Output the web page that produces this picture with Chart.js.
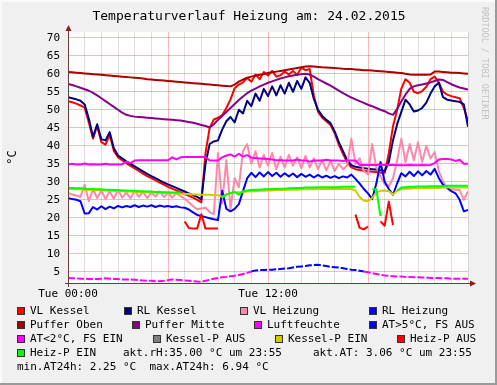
<!DOCTYPE html>
<html>
<head>
<meta charset="utf-8">
<title>Temperaturverlauf Heizung</title>
<script src="https://cdn.jsdelivr.net/npm/chart.js@4.4.1/dist/chart.umd.min.js"></script>
<style>
  body { margin: 0; background: #f0f0f0; }
  canvas { display: block; }
</style>
</head>
<body>
<canvas id="chart" width="497" height="385"></canvas>
<script>
// one sample every 15 minutes, 00:00 .. 24:00
const stepHours = 0.25;
const hours = Array.from({ length: 97 }, (_, i) => i * stepHours);

const xTickLabels = { 0: "Tue 00:00", 12: "Tue 12:00" };
const yTicks = [5, 10, 15, 20, 25, 30, 35, 40, 45, 50, 55, 60, 65, 70];
const yMin = 1.9;
const yMax = 71.6;
const atLimit = 5;

const vlKessel = [
  52.4, 52.1, 51.7, 51.2, 50.6, 46.5, 42.0, 45.5,
  41.0, 40.3, 43.0, 38.6, 36.8, 36.0, 35.2, 34.4,
  33.7, 33.0, 32.3, 31.6, 31.0, 30.4, 29.8, 29.2,
  28.6, 28.1, 27.6, 27.1, 26.6, 26.1, 25.6, 25.0,
  24.3, 38.0, 45.0, 47.3, 47.8, 48.5, 50.5, 52.9,
  56.0, 57.0, 57.6, 58.8, 57.8, 59.8, 58.5, 60.5,
  59.5, 60.8, 59.2, 59.6, 60.6, 59.8, 60.8, 59.7,
  61.7, 61.0, 61.3, 54.0, 49.5, 47.8, 46.8, 45.8,
  43.5, 40.3, 37.8, 35.4, 34.0, 33.5, 33.3, 33.1,
  32.9, 32.8, 32.7, 32.5, 32.4, 38.0, 45.4, 50.0,
  55.9, 58.5, 57.5, 55.0, 54.6, 55.2, 56.4, 58.5,
  59.2, 57.6, 55.0, 54.2, 53.8, 53.5, 53.2, 50.5,
  47.0
];
const rlKessel = [
  53.5, 53.2, 52.9, 52.5, 51.5, 47.5, 42.5, 46.0,
  41.8, 41.5, 43.8, 39.3, 37.3, 36.5, 35.7, 35.0,
  34.3, 33.6, 32.9, 32.2, 31.6, 31.0, 30.4, 29.8,
  29.3, 28.8, 28.3, 27.8, 27.3, 26.8, 26.3, 25.8,
  25.1, 35.0, 40.5, 41.2, 41.5, 44.5, 46.8, 48.0,
  46.5, 50.0, 49.0, 52.5, 51.0, 54.5, 52.5, 55.8,
  53.8, 56.5, 54.0, 56.8, 54.5, 57.5, 55.0, 58.0,
  55.8, 59.0, 57.5, 53.0, 50.0, 48.3, 47.2, 46.3,
  44.0, 41.0, 38.5, 36.0, 34.6, 34.2, 34.0, 33.8,
  33.6, 33.5, 33.4, 33.2, 33.0, 35.5, 41.5, 46.0,
  49.4, 52.8, 51.5, 49.5, 49.8, 50.5, 52.0, 54.5,
  56.5, 57.5, 53.5, 52.8, 52.6, 52.4, 52.2, 51.5,
  45.3
];
const vlHeizung = [
  26.9, 26.5, 26.2, 25.8, 29.2, 24.6, 28.0, 25.5,
  27.6, 25.2, 27.4, 25.3, 27.8, 25.6, 27.0, 25.4,
  27.5, 25.8, 27.2, 25.5, 27.0, 25.9, 27.3, 25.8,
  26.9, 25.6, 26.8, 26.0, 25.3, 24.3, 23.2, 22.4,
  22.6, 22.8, 21.6, 21.0, 38.0, 24.0, 36.0, 22.5,
  31.0, 28.5, 38.5, 40.5, 35.0, 38.5, 34.0, 37.5,
  34.5, 38.0, 33.5, 37.0, 34.0, 37.5, 34.5, 36.8,
  33.8, 37.2, 34.0, 36.5, 33.5, 36.0, 33.2, 35.8,
  33.0, 35.0, 33.5, 34.5, 42.0, 35.0, 36.5, 33.0,
  32.0, 40.5, 34.0, 31.5, 29.3, 28.8, 31.0, 36.0,
  42.0, 35.5, 40.5, 36.0, 41.0, 35.5, 40.0, 36.5,
  38.3, 33.0, 30.0, 28.3, 28.0, 27.8, 27.7, 25.0,
  27.3
];
const rlHeizung = [
  25.5, 25.2, 25.0, 24.6, 21.2, 21.3, 23.0, 22.3,
  23.2, 22.4, 23.1, 22.6, 23.3, 22.9, 23.3, 23.0,
  23.5, 23.0, 23.4, 23.1, 23.5, 23.0, 23.4, 23.1,
  23.3, 23.0, 23.2, 22.9, 22.8, 22.3, 21.5, 20.8,
  20.5, 20.2, 19.9, 19.6, 19.4, 27.5, 22.5, 21.8,
  22.5, 23.8, 27.4, 31.0, 32.5, 31.3, 32.6, 31.5,
  32.7, 31.6, 32.5, 31.4, 32.4, 31.5, 32.3, 31.3,
  32.2, 31.4, 32.0, 31.2, 31.9, 31.2, 31.7, 31.1,
  31.6, 31.0, 31.5, 31.2, 32.0, 30.8, 29.5, 28.0,
  26.8, 25.2, 29.5, 35.5, 30.0, 28.0, 26.4, 29.6,
  32.4, 31.5, 32.8, 31.6, 32.9, 31.8, 33.0, 32.0,
  33.6, 31.0, 29.2, 28.3, 27.4, 26.8, 25.0, 21.8,
  22.2
];
const pufferOben = [
  60.5, 60.4, 60.3, 60.2, 60.1, 60.0, 59.9, 59.8,
  59.7, 59.6, 59.5, 59.4, 59.3, 59.2, 59.1, 59.0,
  58.9, 58.8, 58.7, 58.5, 58.4, 58.3, 58.2, 58.1,
  58.0, 57.9, 57.8, 57.7, 57.6, 57.5, 57.4, 57.3,
  57.2, 57.1, 57.0, 56.9, 56.8, 56.7, 56.6, 56.5,
  57.0, 57.8, 58.4, 58.9, 59.2, 59.5, 59.7, 59.9,
  60.2, 60.4, 60.6, 60.8, 61.0, 61.2, 61.4, 61.6,
  61.8, 62.0, 62.1, 62.0, 61.9, 61.8, 61.75, 61.7,
  61.6, 61.5, 61.4, 61.35, 61.3, 61.2, 61.1, 61.0,
  60.95, 60.9, 60.8, 60.7, 60.6, 60.5, 60.4, 60.3,
  60.2, 60.0, 59.8, 59.7, 59.7, 59.7, 59.7, 59.8,
  60.6, 60.6, 60.5, 60.4, 60.3, 60.3, 60.2, 60.1,
  60.0
];
const pufferMitte = [
  57.2, 56.9, 56.5, 56.1, 55.7, 55.3, 54.7, 54.0,
  53.2, 52.4, 51.6, 50.8, 50.0, 49.2, 48.6, 48.3,
  48.1, 48.0, 47.9, 47.8, 47.7, 47.6, 47.5, 47.4,
  47.3, 47.2, 47.1, 47.0, 46.8, 46.6, 46.4, 46.1,
  45.8, 45.5, 45.1, 46.0, 47.2, 48.3, 49.4, 50.5,
  51.6, 52.7, 53.7, 54.6, 55.3, 55.9, 56.5, 57.0,
  57.5, 57.9, 58.3, 58.7, 59.0, 59.3, 59.5, 59.7,
  59.9, 60.0, 59.8, 59.2, 58.5, 57.9, 57.3, 56.7,
  56.0, 55.3, 54.6, 54.0, 53.4, 52.9, 52.4, 51.9,
  51.4, 51.0, 50.5, 50.0, 49.6, 49.0, 48.6, 50.3,
  52.3, 54.2, 55.8, 56.5, 56.8, 57.0, 57.3, 57.6,
  58.0, 58.4, 58.3, 57.7, 57.1, 56.6, 56.2, 55.9,
  55.6
];
const luftfeuchte = [
  34.8, 35.0, 34.8, 34.8, 35.1, 34.8, 34.9, 34.8,
  34.8, 35.0, 34.8, 34.8, 34.8, 34.9, 35.6, 35.2,
  35.9, 36.0, 36.0, 36.0, 36.0, 36.0, 36.0, 36.0,
  36.0, 36.8, 36.2, 36.8, 36.9, 36.9, 36.9, 36.9,
  36.9, 36.9, 35.9, 35.9, 35.9, 36.8, 37.3, 37.6,
  37.0, 37.8, 37.0, 37.4, 36.7, 36.6, 36.5, 36.4,
  36.3, 36.2, 36.0, 36.0, 35.9, 35.9, 35.9, 36.2,
  35.9, 35.9, 35.6, 35.9, 35.9, 35.9, 36.1, 35.9,
  35.9, 35.9, 35.8, 35.9, 35.9, 35.9, 34.7, 34.7,
  34.7, 34.7, 34.7, 34.8, 34.7, 34.7, 34.7, 34.6,
  34.6, 34.6, 34.7, 34.6, 34.6, 34.7, 34.6, 34.7,
  35.2, 36.2, 36.3, 36.3, 36.2, 35.8, 36.1, 35.0,
  35.0
];
// outside temperature: blue above atLimit, magenta below
const aussenTemp = [
  3.3, 3.2, 3.2, 3.1, 3.1, 3.0, 3.0, 3.0,
  3.1, 3.2, 3.1, 3.0, 3.0, 2.9, 2.9, 2.9,
  2.8, 2.7, 2.6, 2.5, 2.5, 2.4, 2.4, 2.5,
  2.7, 2.9, 2.8, 2.7, 2.6, 2.5, 2.4, 2.3,
  2.25, 2.5, 2.8, 3.1, 3.3, 3.5, 3.6, 3.8,
  3.9, 4.1, 4.4, 4.7, 5.1, 5.4, 5.5, 5.5,
  5.6, 5.6, 5.7, 5.8, 5.9, 6.0, 6.2, 6.4,
  6.5, 6.6, 6.8, 6.9, 6.94, 6.8, 6.6, 6.4,
  6.3, 6.2, 6.0, 5.8, 5.6, 5.5, 5.3, 5.1,
  4.9, 4.6, 4.4, 4.2, 4.0, 3.9, 3.8, 3.7,
  3.7, 3.6, 3.6, 3.5, 3.5, 3.4, 3.4, 3.3,
  3.3, 3.3, 3.2, 3.2, 3.1, 3.1, 3.1, 3.06,
  3.06
];
const kesselPEin = [
  28.0, 28.0, 27.9, 27.9, 27.8, 27.8, 27.7, 27.7,
  27.6, 27.6, 27.5, 27.5, 27.4, 27.4, 27.3, 27.3,
  27.2, 27.2, 27.1, 27.1, 27.0, 27.0, 26.9, 26.9,
  26.8, 26.8, 26.7, 26.7, 26.6, 26.6, 26.5, 26.5,
  26.4, 26.4, 26.4, 26.3, 26.3, 25.8, 26.5, 26.8,
  27.0, 27.1, 27.2, 27.3, 27.4, 27.4, 27.5, 27.5,
  27.6, 27.6, 27.7, 27.7, 27.7, 27.8, 27.8, 27.8,
  27.9, 27.9, 27.9, 27.9, 28.0, 28.0, 28.0, 28.0,
  28.0, 28.0, 28.0, 28.0, 28.0, 27.6, 25.8, 24.8,
  24.6, 25.5, 27.0, 27.5, 27.6, 27.4, 26.5, 27.5,
  28.0, 28.1, 28.1, 28.2, 28.2, 28.2, 28.3, 28.3,
  28.3, 28.3, 28.4, 28.4, 28.4, 28.4, 28.4, 28.4,
  28.4
];
const heizPAus = [
  null, null, null, null, null, null, null, null,
  null, null, null, null, null, null, null, null,
  null, null, null, null, null, null, null, null,
  null, null, null, null, 19.0, 17.2, 17.0, 17.0,
  21.0, 17.0, 17.0, 17.0, 17.0, null, null, null,
  null, null, null, null, null, null, null, null,
  null, null, null, null, null, null, null, null,
  null, null, null, null, null, null, null, null,
  null, null, null, null, null, 20.9, 17.2, 16.8,
  17.6, null, null, 19.0, 17.8, 24.5, 18.0, null,
  null, null, null, null, null, null, null, null,
  null, null, null, null, null, null, null, null,
  null
];
const heizPEin = [
  28.3, 28.3, 28.2, 28.2, 28.1, 28.0, 28.0, 27.9,
  27.9, 27.8, 27.8, 27.7, 27.7, 27.6, 27.6, 27.5,
  27.5, 27.4, 27.4, 27.3, 27.3, 27.2, 27.2, 27.1,
  27.1, 27.0, 27.0, 27.0, null, null, null, null,
  null, null, null, null, null, 25.6, 26.5, 26.9,
  27.2, 26.4, 27.4, 27.6, 27.7, 27.8, 27.8, 27.9,
  27.9, 28.0, 28.0, 28.1, 28.1, 28.2, 28.2, 28.3,
  28.3, 28.4, 28.4, 28.4, 28.5, 28.5, 28.5, 28.5,
  28.5, 28.5, 28.6, 28.6, 28.6, 28.6, null, null,
  null, 27.9, 27.9, 20.5, null, null, null, 27.6,
  28.4, 28.5, 28.6, 28.6, 28.7, 28.7, 28.7, 28.8,
  28.8, 28.8, 28.8, 28.9, 28.9, 28.9, 28.9, 28.9,
  28.9
];

const legendLabels = [
  "VL Kessel", "RL Kessel", "VL Heizung", "RL Heizung",
  "Puffer Oben", "Puffer Mitte", "Luftfeuchte", "AT>5°C, FS AUS",
  "AT<2°C, FS EIN", "Kessel-P AUS", "Kessel-P EIN", "Heiz-P AUS",
  "Heiz-P EIN"
];
const legendColors = [
  "#ff0000", "#000080", "#ff88aa", "#0000ff",
  "#aa0000", "#880088", "#ff00ff", "#0000ff",
  "#ff00ff", "#808080", "#cccc00", "#ff0000",
  "#00ff00"
];
const legendSpots = [
  [17, 311], [124, 311], [240, 311], [369, 311],
  [17, 325], [132, 325], [254, 325], [369, 325],
  [17, 339], [153, 339], [275, 339], [397, 339],
  [17, 353]
];
const commentTexts = [
  "akt.rH:35.00 °C um 23:55",
  "akt.AT: 3.06 °C um 23:55",
  "min.AT24h: 2.25 °C  max.AT24h: 6.94 °C"
];
const commentSpots = [[123, 353], [313, 353], [17, 367]];

const monoFont = "'DejaVu Sans Mono', monospace";
const majorGrid = "rgba(255,0,0,0.28)";
const minorGrid = "rgba(140,140,140,0.28)";

function line(data, color, extra) {
  return Object.assign({
    data: data,
    borderColor: color,
    borderWidth: 2,
    pointRadius: 0,
    borderJoinStyle: "round",
    tension: 0,
    fill: false
  }, extra || {});
}

const datasets = [
  line(vlKessel, legendColors[0]),
  line(rlKessel, legendColors[1]),
  line(vlHeizung, legendColors[2]),
  line(rlHeizung, legendColors[3]),
  line(pufferOben, legendColors[4]),
  line(pufferMitte, legendColors[5]),
  line(luftfeuchte, legendColors[6]),
  line(aussenTemp, legendColors[8], {
    borderDash: [7, 2],
    segment: {
      borderColor: c => (c.p0.parsed.y >= atLimit && c.p1.parsed.y >= atLimit) ? legendColors[7] : legendColors[8]
    }
  }),
  line(kesselPEin, legendColors[10]),
  line(heizPAus, legendColors[11]),
  line(heizPEin, legendColors[12])
];
// rrdtool paints later graphs on top
datasets.forEach((d, i) => { d.order = -i; });

const rrdLook = {
  id: "rrdLook",
  beforeDraw(chart) {
    const { ctx, chartArea: a, width, height } = chart;
    ctx.save();
    ctx.fillStyle = "#f0f0f0";
    ctx.fillRect(0, 0, width, height);
    ctx.fillStyle = "#fafafa";
    ctx.fillRect(0, 0, width, 2);
    ctx.fillRect(0, 0, 2, height);
    ctx.fillStyle = "#9a9a9a";
    ctx.fillRect(0, height - 2, width, 2);
    ctx.fillRect(width - 2, 0, 2, height);
    ctx.fillStyle = "#ffffff";
    ctx.fillRect(a.left, a.top, a.right - a.left, a.bottom - a.top);
    ctx.restore();
  },
  afterDraw(chart) {
    const { ctx, chartArea: a } = chart;
    ctx.save();

    // axes with arrows
    ctx.strokeStyle = "#6e3a3a";
    ctx.lineWidth = 1;
    ctx.beginPath();
    ctx.moveTo(a.left - 3, a.bottom + 0.5);
    ctx.lineTo(a.right + 3, a.bottom + 0.5);
    ctx.moveTo(a.left + 0.5, a.bottom + 4);
    ctx.lineTo(a.left + 0.5, a.top - 3);
    ctx.stroke();
    ctx.fillStyle = "#8b1c1c";
    ctx.beginPath();
    ctx.moveTo(a.right + 8, a.bottom + 0.5);
    ctx.lineTo(a.right + 2, a.bottom - 2.5);
    ctx.lineTo(a.right + 2, a.bottom + 3.5);
    ctx.fill();
    ctx.beginPath();
    ctx.moveTo(a.left + 0.5, a.top - 7);
    ctx.lineTo(a.left - 2.5, a.top - 1);
    ctx.lineTo(a.left + 3.5, a.top - 1);
    ctx.fill();

    // title
    ctx.fillStyle = "#000";
    ctx.font = "13px " + monoFont;
    ctx.textAlign = "center";
    ctx.textBaseline = "middle";
    ctx.fillText("Temperaturverlauf Heizung am: 24.02.2015", 249, 17);

    // vertical unit label
    ctx.save();
    ctx.translate(13, (a.top + a.bottom) / 2);
    ctx.rotate(-Math.PI / 2);
    ctx.font = "12px " + monoFont;
    ctx.fillText("°C", 0, 0);
    ctx.restore();

    // watermark
    ctx.save();
    ctx.translate(484, 7);
    ctx.rotate(Math.PI / 2);
    ctx.font = "8.5px " + monoFont;
    ctx.fillStyle = "#c2c2c2";
    ctx.textAlign = "left";
    ctx.textBaseline = "middle";
    ctx.fillText("RRDTOOL / TOBI OETIKER", 0, 0);
    ctx.restore();

    // legend
    ctx.font = "11px " + monoFont;
    ctx.textAlign = "left";
    ctx.textBaseline = "middle";
    legendLabels.forEach((label, i) => {
      const [x, y] = legendSpots[i];
      ctx.fillStyle = legendColors[i];
      ctx.fillRect(x, y - 4, 8, 8);
      ctx.strokeStyle = "#333";
      ctx.strokeRect(x + 0.5, y - 3.5, 7, 7);
      ctx.fillStyle = "#000";
      ctx.fillText(label, x + 13, y);
    });
    commentTexts.forEach((t, i) => {
      ctx.fillText(t, commentSpots[i][0], commentSpots[i][1]);
    });
    ctx.restore();
  }
};

Chart.defaults.font.family = monoFont;
Chart.defaults.font.size = 11;
Chart.defaults.color = "#000";

new Chart(document.getElementById("chart"), {
  type: "line",
  data: { labels: hours, datasets: datasets },
  options: {
    responsive: false,
    animation: false,
    devicePixelRatio: 1,
    layout: { padding: { top: 32, right: 29, left: 0, bottom: 0 } },
    plugins: { legend: { display: false }, tooltip: { enabled: false } },
    scales: {
      x: {
        type: "linear",
        min: 0,
        max: 24,
        border: { display: false },
        grid: {
          drawTicks: false,
          color: c => (c.tick.value % 6 === 0 && c.tick.value < 24) ? majorGrid : minorGrid
        },
        ticks: {
          stepSize: 1,
          autoSkip: false,
          maxRotation: 0,
          minRotation: 0,
          padding: 5,
          callback: v => xTickLabels[v] || ""
        },
        afterFit: s => { s.height = 102; }
      },
      y: {
        min: yMin,
        max: yMax,
        border: { display: false },
        grid: { drawTicks: false, color: majorGrid },
        ticks: { padding: 8 },
        afterBuildTicks: s => { s.ticks = yTicks.map(v => ({ value: v })); },
        afterFit: s => { s.width = 68; }
      }
    }
  },
  plugins: [rrdLook]
});
</script>
</body>
</html>
